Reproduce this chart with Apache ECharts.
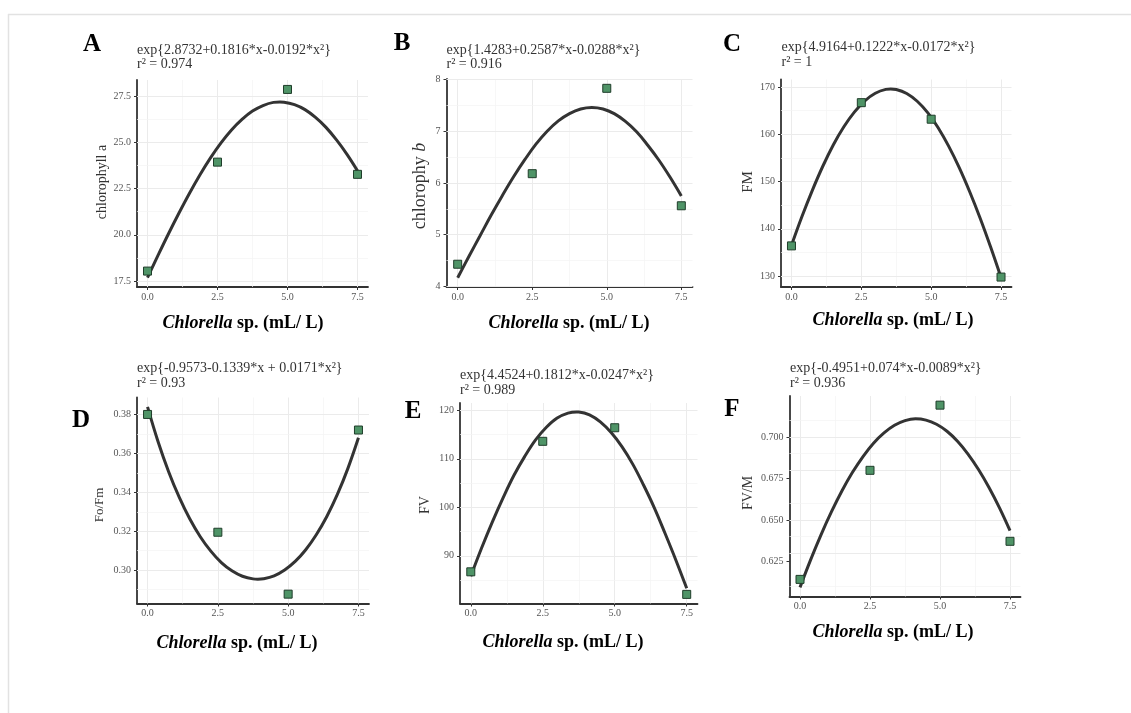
<!DOCTYPE html>
<html>
<head>
<meta charset="utf-8">
<script src="https://cdn.jsdelivr.net/npm/echarts@6/dist/echarts.min.js"></script>
<style>
html,body{margin:0;padding:0;background:#fff;}
#chart{width:1131px;height:713px;}
</style>
</head>
<body>
<div id="chart"></div>
<script>
// ---------- data ----------
const xValues = [0, 2.5, 5, 7.5];
const chlA = [18.04, 23.93, 27.86, 23.27];
const chlB = [4.43, 6.18, 7.83, 5.56];
const fm = [136.4, 166.7, 163.2, 129.8];
const foFm = [0.380, 0.3195, 0.2877, 0.372];
const fv = [86.7, 113.6, 116.4, 82.05];
const fvM = [0.6143, 0.6799, 0.7191, 0.6372];

// fitted curves
const chlAFitX = [0, 0.375, 0.75, 1.125, 1.5, 1.875, 2.25, 2.625, 3, 3.375, 3.75, 4.125, 4.5, 4.73, 4.875, 5.25, 5.625, 6, 6.375, 6.75, 7.125, 7.5];
const chlAFit  = [17.69, 18.89, 20.06, 21.18, 22.25, 23.25, 24.16, 24.97, 25.67, 26.24, 26.69, 26.99, 27.16, 27.18, 27.17, 27.04, 26.77, 26.35, 25.81, 25.13, 24.35, 23.46];
const chlBFitX = [0, 0.375, 0.75, 1.125, 1.5, 1.875, 2.25, 2.625, 3, 3.375, 3.75, 4.125, 4.5, 4.875, 5.25, 5.625, 6, 6.375, 6.75, 7.125, 7.5];
const chlBFit  = [4.17, 4.58, 4.98, 5.38, 5.76, 6.12, 6.45, 6.75, 7.00, 7.20, 7.34, 7.43, 7.46, 7.43, 7.34, 7.19, 6.99, 6.73, 6.44, 6.11, 5.75];
const fmFitX   = [0, 0.375, 0.75, 1.125, 1.5, 1.875, 2.25, 2.625, 3, 3.375, 3.55, 3.75, 4.125, 4.5, 4.875, 5.25, 5.625, 6, 6.375, 6.75, 7.125, 7.5];
const fmFit    = [136.5, 142.6, 148.2, 153.3, 157.8, 161.6, 164.7, 167.1, 168.7, 169.51, 169.6, 169.49, 168.65, 167.0, 164.6, 161.4, 157.5, 153.0, 147.9, 142.3, 136.2, 129.7];
const foFmFitX = [0, 0.375, 0.75, 1.125, 1.5, 1.875, 2.25, 2.625, 3, 3.375, 3.75, 3.92, 4.125, 4.5, 4.875, 5.25, 5.625, 6, 6.375, 6.75, 7.125, 7.5];
const foFmFit  = [0.3839, 0.3660, 0.3506, 0.3375, 0.3264, 0.3172, 0.3098, 0.3039, 0.2997, 0.2969, 0.29554, 0.2954, 0.29562, 0.2971, 0.3001, 0.3045, 0.3105, 0.3182, 0.3276, 0.3389, 0.3523, 0.3680];
const fvFitX   = [0, 0.375, 0.75, 1.125, 1.5, 1.875, 2.25, 2.625, 3, 3.375, 3.67, 3.75, 4.125, 4.5, 4.875, 5.25, 5.625, 6, 6.375, 6.75, 7.125, 7.5];
const fvFit    = [85.8, 91.6, 97.0, 102.0, 106.6, 110.5, 113.9, 116.5, 118.4, 119.4, 119.67, 119.65, 119.05, 117.6, 115.4, 112.5, 108.9, 104.6, 99.9, 94.6, 89.1, 83.3];
const fvMFitX  = [0, 0.375, 0.75, 1.125, 1.5, 1.875, 2.25, 2.625, 3, 3.375, 3.75, 4.125, 4.5, 4.875, 5.25, 5.625, 6, 6.375, 6.75, 7.125, 7.5];
const fvMFit   = [0.6095, 0.6259, 0.6411, 0.6550, 0.6676, 0.6787, 0.6882, 0.6962, 0.7024, 0.7070, 0.7098, 0.7109, 0.7101, 0.7076, 0.7034, 0.6974, 0.6897, 0.6804, 0.6696, 0.6573, 0.6436];

// tick labels
const xTicks = [0, 2.5, 5, 7.5];
const xMinor = [1.25, 3.75, 6.25];
const yTicksA = [17.5, 20, 22.5, 25, 27.5];
const yMinorA = [18.75, 21.25, 23.75, 26.25];
const yTicksB = [4, 5, 6, 7, 8];
const yMinorB = [4.5, 5.5, 6.5, 7.5];
const yTicksC = [130, 140, 150, 160, 170];
const yMinorC = [135, 145, 155, 165];
const yTicksD = [0.30, 0.32, 0.34, 0.36, 0.38];
const yMinorD = [0.29, 0.31, 0.33, 0.35, 0.37];
const yTicksE = [90, 100, 110, 120];
const yMinorE = [85, 95, 105, 115];
const yTicksF = [0.625, 0.650, 0.675, 0.700];
const yMinorF = [0.6125, 0.6375, 0.6625, 0.6875, 0.7125];

// texts
const letters = ['A', 'B', 'C', 'D', 'E', 'F'];
const equations = [
  'exp{2.8732+0.1816*x-0.0192*x²}',
  'exp{1.4283+0.2587*x-0.0288*x²}',
  'exp{4.9164+0.1222*x-0.0172*x²}',
  'exp{-0.9573-0.1339*x + 0.0171*x²}',
  'exp{4.4524+0.1812*x-0.0247*x²}',
  'exp{-0.4951+0.074*x-0.0089*x²}'
];
const rSquared = ['r² = 0.974', 'r² = 0.916', 'r² = 1', 'r² = 0.93', 'r² = 0.989', 'r² = 0.936'];
const yTitles = ['chlorophyll a', 'chlorophy ', 'FM', 'Fo/Fm', 'FV', 'FV/M'];

// ---------- layout ----------
const panels = [
  {pts: chlA, fx: chlAFitX, fit: chlAFit, yt: yTicksA, ym: yMinorA, dec: 1, grid: {left: 137, top: 80, width: 231, height: 207}, ymin: 17.18, ymax: 28.37,
   letter: [92, 45], eq: [137, 50.5, 64], xt: [243, 323], ytl: [102, 182, 14]},
  {pts: chlB, fx: chlBFitX, fit: chlBFit, yt: yTicksB, ym: yMinorB, dec: 0, grid: {left: 446.5, top: 79, width: 246, height: 208}, ymin: 3.99, ymax: 8.01,
   letter: [402, 44], eq: [446.5, 50.5, 64], xt: [569, 323], ytl: [420, 186, 18], italicTail: 'b'},
  {pts: fm, fx: fmFitX, fit: fmFit, yt: yTicksC, ym: yMinorC, dec: 0, grid: {left: 781, top: 79.5, width: 230.5, height: 207.5}, ymin: 127.7, ymax: 171.6,
   letter: [732, 45], eq: [781.5, 47, 62], xt: [893, 320], ytl: [748, 182, 15]},
  {pts: foFm, fx: foFmFitX, fit: foFmFit, yt: yTicksD, ym: yMinorD, dec: 2, grid: {left: 137, top: 397.5, width: 232, height: 206}, ymin: 0.2829, ymax: 0.3887,
   letter: [81, 421], eq: [137, 368.5, 383.5], xt: [237, 643], ytl: [100, 505, 13]},
  {pts: fv, fx: fvFitX, fit: fvFit, yt: yTicksE, ym: yMinorE, dec: 0, grid: {left: 460, top: 403, width: 237.5, height: 200.5}, ymin: 80.17, ymax: 121.5,
   letter: [413, 412], eq: [460, 375, 390], xt: [563, 642], ytl: [425, 505, 14]},
  {pts: fvM, fx: fvMFitX, fit: fvMFit, yt: yTicksF, ym: yMinorF, dec: 3, grid: {left: 789.5, top: 396, width: 231, height: 200.5}, ymin: 0.604, ymax: 0.7246,
   letter: [732, 410], eq: [790, 368.5, 383], xt: [893, 632], ytl: [748, 493, 14]}
];

const SERIF = '"Liberation Serif", "DejaVu Serif", serif';
const grids = [], xAxes = [], yAxes = [], series = [], graphics = [];

// outer frame
graphics.push({type: 'line', shape: {x1: 8, y1: 14.5, x2: 1131, y2: 14.5}, style: {stroke: '#e2e2e2', lineWidth: 1.5}, silent: true});
graphics.push({type: 'line', shape: {x1: 8.5, y1: 14, x2: 8.5, y2: 713}, style: {stroke: '#e2e2e2', lineWidth: 1.5}, silent: true});

panels.forEach((p, i) => {
  grids.push(Object.assign({outerBoundsMode: 'none', containLabel: false}, p.grid));
  xAxes.push({
    type: 'value', gridIndex: i, min: -0.375, max: 7.875,
    axisLine: {show: true, onZero: false, lineStyle: {color: '#333', width: 1.8}},
    axisTick: {show: true, length: 3, customValues: xTicks, lineStyle: {color: '#333', width: 1}},
    axisLabel: {customValues: xTicks, margin: 5, color: '#555', fontFamily: SERIF, fontSize: 10,
      formatter: v => Number(v).toFixed(1)},
    splitLine: {show: false}
  });
  yAxes.push({
    type: 'value', gridIndex: i, min: p.ymin, max: p.ymax,
    axisLine: {show: true, onZero: false, lineStyle: {color: '#333', width: 1.8}},
    axisTick: {show: true, length: 3, customValues: p.yt, lineStyle: {color: '#333', width: 1}},
    axisLabel: {customValues: p.yt, margin: 6, color: '#555', fontFamily: SERIF, fontSize: 10,
      formatter: v => Number(v).toFixed(p.dec)},
    splitLine: {show: false}
  });
  const gl = [];
  xTicks.forEach(v => gl.push({xAxis: v, lineStyle: {color: '#ebebeb', width: 1}}));
  xMinor.forEach(v => gl.push({xAxis: v, lineStyle: {color: '#f4f4f4', width: 0.7}}));
  p.yt.forEach(v => gl.push({yAxis: v, lineStyle: {color: '#ebebeb', width: 1}}));
  p.ym.forEach(v => gl.push({yAxis: v, lineStyle: {color: '#f4f4f4', width: 0.7}}));
  series.push({
    type: 'line', xAxisIndex: i, yAxisIndex: i, data: [], silent: true, z: 1,
    markLine: {silent: true, symbol: ['none', 'none'], z: 1, animation: false,
      label: {show: false}, lineStyle: {type: 'solid'}, data: gl}
  });
  series.push({
    type: 'line', xAxisIndex: i, yAxisIndex: i, z: 3, smooth: 0.4, showSymbol: false, silent: true,
    data: p.fx.map((x, k) => [x, p.fit[k]]),
    lineStyle: {color: '#333', width: 3}
  });
  series.push({
    type: 'scatter', xAxisIndex: i, yAxisIndex: i, z: 4, symbol: 'rect', symbolSize: 8,
    data: xValues.map((x, k) => [x, p.pts[k]]),
    itemStyle: {color: '#4f9467', borderColor: '#1f3d2a', borderWidth: 1, opacity: 1}
  });

  graphics.push({type: 'text', x: p.letter[0], y: p.letter[1], silent: true,
    style: {text: letters[i], fill: '#000', font: 'bold 25px ' + SERIF, align: 'center', verticalAlign: 'middle'}});
  graphics.push({type: 'text', x: p.eq[0], y: p.eq[1], silent: true,
    style: {text: equations[i], fill: '#333', font: '14px ' + SERIF, align: 'left', verticalAlign: 'middle'}});
  graphics.push({type: 'text', x: p.eq[0], y: p.eq[2], silent: true,
    style: {text: rSquared[i], fill: '#333', font: '14px ' + SERIF, align: 'left', verticalAlign: 'middle'}});
  graphics.push({type: 'text', x: p.xt[0], y: p.xt[1], silent: true,
    style: {text: '{i|Chlorella}{b| sp. (mL/ L)}', align: 'center', verticalAlign: 'middle',
      rich: {
        i: {fontFamily: SERIF, fontSize: 18, fontWeight: 'bold', fontStyle: 'italic', fill: '#000'},
        b: {fontFamily: SERIF, fontSize: 18, fontWeight: 'bold', fill: '#000'}
      }}});
  const ysz = p.ytl[2];
  const ytext = p.italicTail ? '{n|' + yTitles[i] + '}{it|' + p.italicTail + '}' : '{n|' + yTitles[i] + '}';
  graphics.push({type: 'text', x: p.ytl[0], y: p.ytl[1], rotation: Math.PI / 2, silent: true,
    style: {text: ytext, align: 'center', verticalAlign: 'middle',
      rich: {
        n: {fontFamily: SERIF, fontSize: ysz, fill: '#333'},
        it: {fontFamily: SERIF, fontSize: ysz, fontStyle: 'italic', fill: '#333'}
      }}});
});

const chart = echarts.init(document.getElementById('chart'), null, {renderer: 'canvas'});
chart.setOption({
  backgroundColor: '#fff',
  animation: false,
  grid: grids,
  xAxis: xAxes,
  yAxis: yAxes,
  series: series,
  graphic: graphics
});
</script>
</body>
</html>
